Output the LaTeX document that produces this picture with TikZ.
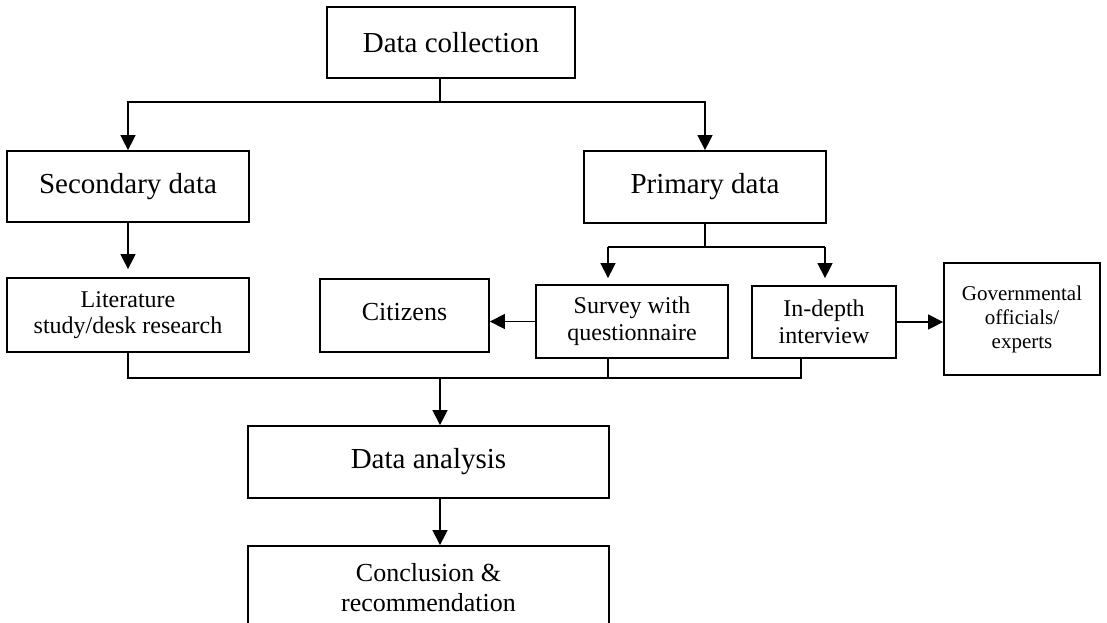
\documentclass[tikz,border=0pt]{standalone}
\usepackage{fontspec}
\setmainfont{Liberation Serif}
\usetikzlibrary{arrows.meta}
\begin{document}
\begin{tikzpicture}[x=1pt,y=-1pt,
  box/.style={draw, line width=1.8pt, rectangle, inner sep=0pt, align=center},
  bigtext/.style={font=\fontsize{29}{33}\selectfont},
  midtext/.style={font=\fontsize{24}{26.5}\selectfont},
  conn/.style={line width=1.4pt},
  arr/.style={conn, -{Triangle[width=15pt,length=15pt]}},
]
\useasboundingbox (0,0) rectangle (1107,622);
\clip (0,0) rectangle (1107,622);

% nodes
\node[box, bigtext, minimum width=248pt, minimum height=71pt] (dc) at (451,42.5) {Data collection};
\node[box, bigtext, minimum width=242pt, minimum height=71pt] (sec) at (128,186.5) {Secondary data};
\node[box, bigtext, minimum width=242pt, minimum height=72pt] (pri) at (705,187) {Primary data};
\node[box, midtext, minimum width=242pt, minimum height=74pt] (lit) at (128,315) {Literature\\study/desk research};
\node[box, font=\fontsize{26}{30}\selectfont, minimum width=169pt, minimum height=73pt] (cit) at (404.5,315.5) {\raisebox{7pt}{Citizens}};
\node[box, font=\fontsize{24}{27}\selectfont, minimum width=192pt, minimum height=73pt] (sur) at (632,321.5) {Survey with\\questionnaire};
\node[box, font=\fontsize{24}{27}\selectfont, minimum width=144pt, minimum height=72pt] (ind) at (824,322) {In-depth\\interview};
\node[box, font=\fontsize{21}{25}\selectfont, minimum width=156pt, minimum height=112pt] (gov) at (1022,319) {\raisebox{6pt}{\begin{tabular}{@{}c@{}}Governmental\\[-1pt]officials/\\[-1pt]experts\end{tabular}}};
\node[box, bigtext, minimum width=361pt, minimum height=72pt] (da) at (428.5,462) {Data analysis};
\node[box, font=\fontsize{26}{30}\selectfont, minimum width=361pt, minimum height=84pt] (conc) at (428.5,588) {Conclusion \&\\recommendation};

% connectors
\coordinate (j1) at (440,102);
\draw[conn] (dc.south -| j1) -- (j1);
\draw[arr] (j1) -| (sec.north);
\draw[arr] (j1) -| (pri.north);

\draw[arr, shorten >=8pt] (sec.south) -- (lit.north);

\coordinate (j2) at (705,247);
\coordinate (fl) at (608,247);
\coordinate (fr) at (825,247);
\draw[conn] (pri.south) -- (j2);
\draw[conn] (fl) -- (fr);
\draw[arr, shorten >=6pt] (fl) -- (fl |- sur.north);
\draw[arr, shorten >=7pt] (fr) -- (fr |- ind.north);

\draw[arr] (sur.west) -- (sur.west -| cit.east);
\draw[arr] (ind.east) -- (ind.east -| gov.west);

\coordinate (ml) at (128,378);
\coordinate (mr) at (801,378);
\coordinate (mc) at (440,378);
\draw[conn] (lit.south) -- (ml) -- (mr) -- (mr |- ind.south);
\draw[conn] (fl |- sur.south) -- (fl |- ml);
\draw[arr] (mc) -- (mc |- da.north);
\draw[arr] (mc |- da.south) -- (mc |- conc.north);
\end{tikzpicture}
\end{document}
